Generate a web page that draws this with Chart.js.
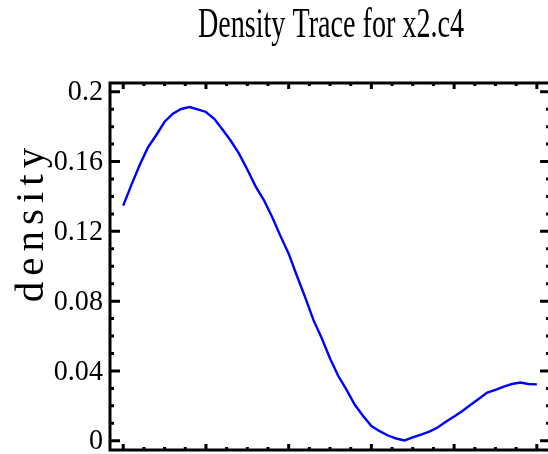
<!DOCTYPE html>
<html>
<head>
<meta charset="utf-8">
<script src="https://cdn.jsdelivr.net/npm/chart.js@4.4.0/dist/chart.umd.min.js"></script>
<style>
  html, body { margin: 0; padding: 0; background: #fff; overflow: hidden; }
  #box { width: 548px; height: 454px; }
</style>
</head>
<body>
<div id="box"><canvas id="myChart" width="548" height="454"></canvas></div>
<script>
// density trace
const xValues = [0, 0.1, 0.2, 0.3, 0.4, 0.5, 0.6, 0.7, 0.8, 0.9,
  1, 1.1, 1.2, 1.3, 1.4, 1.5, 1.6, 1.7, 1.8, 1.9,
  2, 2.1, 2.2, 2.3, 2.4, 2.5, 2.6, 2.7, 2.8, 2.9,
  3, 3.1, 3.2, 3.3, 3.4, 3.5, 3.6, 3.7, 3.8, 3.9,
  4, 4.1, 4.2, 4.3, 4.4, 4.5, 4.6, 4.7, 4.8, 4.9, 5];
const density = [0.1347, 0.1468, 0.1582, 0.1682, 0.1752, 0.1828, 0.1874, 0.1901, 0.1912, 0.1899,
  0.1884, 0.1845, 0.1784, 0.1719, 0.1645, 0.1554, 0.1458, 0.1379, 0.1282, 0.1174,
  0.1072, 0.0944, 0.0822, 0.0691, 0.0587, 0.0471, 0.0371, 0.0291, 0.0206, 0.0142,
  0.0084, 0.0055, 0.0030, 0.0013, 0.0002, 0.0019, 0.0035, 0.0052, 0.0076, 0.0109,
  0.0139, 0.0171, 0.0206, 0.0241, 0.0276, 0.0292, 0.0310, 0.0325, 0.0334, 0.0325, 0.0323];
const yTicks = [0, 0.04, 0.08, 0.12, 0.16, 0.2];
const yTickLabels = ["0", "0.04", "0.08", "0.12", "0.16", "0.2"];
const xMajor = [0, 1, 2, 3, 4, 5];

const titleText = "Density Trace for x2.c4";
const yTitle = "density";

function textSquashed(ctx, str, x, y, sx, align) {
  ctx.save();
  ctx.translate(x, y);
  ctx.scale(sx, 1);
  ctx.textAlign = align;
  ctx.fillText(str, 0, 0);
  ctx.restore();
}

const frame = {
  id: "frame",
  afterDraw(chart) {
    const ctx = chart.ctx;
    const xs = chart.scales.x;
    const ys = chart.scales.y;
    const left = xs.getPixelForValue(-0.16);
    const right = xs.getPixelForValue(5.16);
    const top = ys.getPixelForValue(0.205);
    const bottom = ys.getPixelForValue(-0.0053);
    ctx.save();
    ctx.strokeStyle = "#000";
    ctx.lineWidth = 3;
    ctx.strokeRect(left, top, right - left, bottom - top);

    // y ticks, left and right, pointing in
    for (let v = 0; v <= 0.2001; v += 0.01) {
      const p = ys.getPixelForValue(v);
      const major = Math.abs(v / 0.04 - Math.round(v / 0.04)) < 0.01;
      const len = major ? 10 : 4;
      ctx.beginPath();
      ctx.moveTo(left, p); ctx.lineTo(left + len, p);
      ctx.moveTo(right, p); ctx.lineTo(right - len, p);
      ctx.stroke();
    }
    // x ticks, top and bottom
    for (let v = 0; v <= 5.001; v += 0.25) {
      const p = xs.getPixelForValue(v);
      const major = xMajor.includes(Math.round(v * 100) / 100);
      const len = major ? 6 : 3;
      ctx.beginPath();
      ctx.moveTo(p, bottom); ctx.lineTo(p, bottom - len);
      ctx.moveTo(p, top); ctx.lineTo(p, top + len);
      ctx.stroke();
    }

    ctx.fillStyle = "#000";
    ctx.textBaseline = "middle";
    ctx.font = "29px 'Liberation Serif'";
    yTicks.forEach((v, i) => {
      textSquashed(ctx, yTickLabels[i], 103, ys.getPixelForValue(v) + 1, 0.97, "right");
    });

    ctx.textBaseline = "alphabetic";
    ctx.font = "42px 'Liberation Serif'";
    textSquashed(ctx, titleText, 331, 37, 0.67, "center");

    ctx.save();
    ctx.translate(43, 222);
    ctx.rotate(-Math.PI / 2);
    ctx.font = "41px 'Liberation Serif'";
    ctx.letterSpacing = "6px";
    ctx.textAlign = "center";
    ctx.fillText(yTitle, 0, 0);
    ctx.restore();
    ctx.restore();
  }
};

const ctx = document.getElementById("myChart").getContext("2d");
const myChart = new Chart(ctx, {
  type: "line",
  data: {
    datasets: [
      {
        data: xValues.map((x, i) => ({ x: x, y: density[i] })),
        borderColor: "#0000ff",
        borderWidth: 2.4,
        pointRadius: 0,
        tension: 0,
        fill: false,
      },
    ],
  },
  options: {
    responsive: false,
    animation: false,
    layout: { padding: { left: 110, top: 83, right: 0, bottom: 4 } },
    plugins: { legend: { display: false }, tooltip: { enabled: false } },
    scales: {
      x: { type: "linear", min: -0.16, max: 5.135, display: false },
      y: { min: -0.0053, max: 0.205, display: false },
    },
  },
  plugins: [frame],
});
</script>
</body>
</html>
